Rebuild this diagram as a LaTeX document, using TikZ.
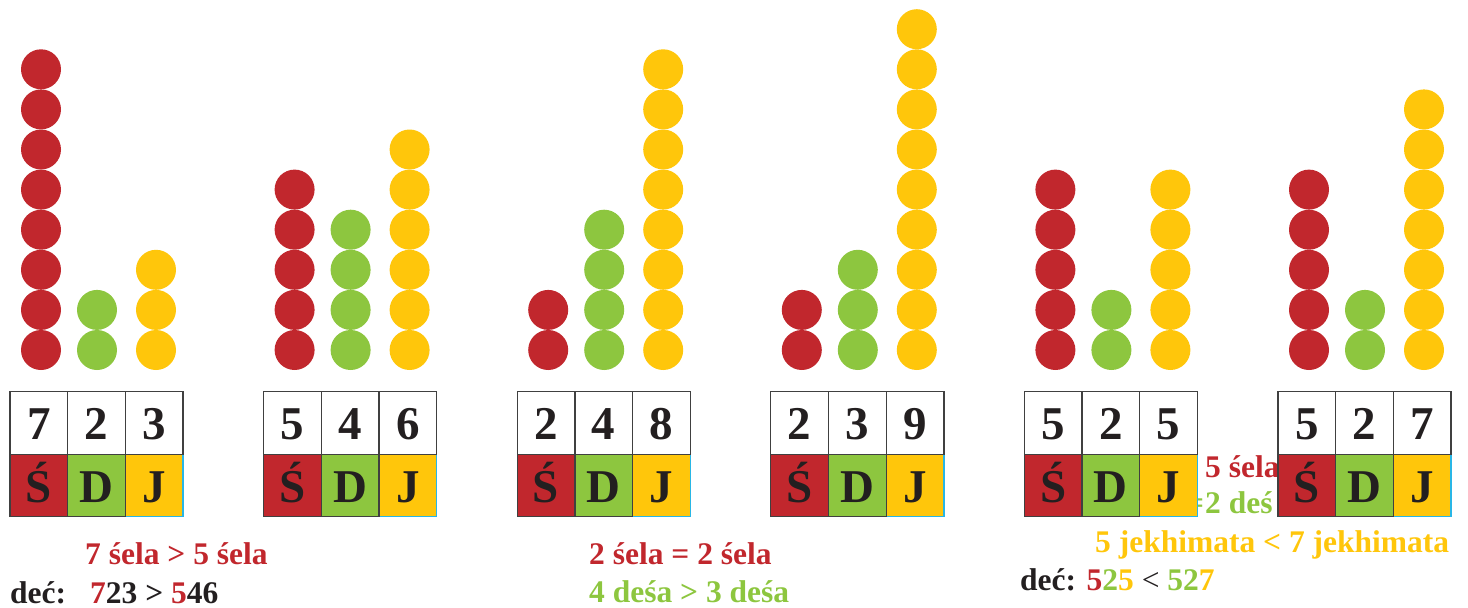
\documentclass[tikz,border=0pt]{standalone}
\usepackage{fontspec}
\setmainfont{Liberation Serif}
\definecolor{cred}{HTML}{C1272D}
\definecolor{cgreen}{HTML}{8DC63F}
\definecolor{cyellow}{HTML}{FFC60B}
\definecolor{ccyan}{HTML}{29B6E6}
\definecolor{cink}{HTML}{231F20}
\definecolor{cedge}{HTML}{404040}
\begin{document}
\begin{tikzpicture}[x=1pt,y=-1pt,
  cell/.style={draw=cedge, line width=1.3pt, minimum width=57.7pt, minimum height=62.5pt,
    inner sep=0pt, font=\fontsize{47}{47}\selectfont\bfseries, text=cink},
  topcell/.style={cell, fill=white, text height=32pt, text depth=0pt},
  botcell/.style={cell, text height=33pt, text depth=0pt},
  lbl/.style={anchor=base west, inner sep=0pt, font=\fontsize{31.5}{32}\selectfont\bfseries},
  bead/.style={fill=#1}]
\useasboundingbox (0,0) rectangle (1468,608);
% labels partly hidden behind boxes
\node[lbl, text=cred] (t5a) at (1205,477) {5 śela};
\node[lbl, text=cgreen] (t5b) at (1186,513) {=\hspace{1pt}2 deś};
\foreach \g/\r/\gg/\yy/\a/\b/\c in {0/8/2/3/7/2/3, 1/5/4/6/5/4/6, 2/2/4/8/2/4/8,
    3/2/3/9/2/3/9, 4/5/2/5/5/2/5, 5/5/2/7/5/2/7}{
  \pgfmathsetmacro\xo{10+253.6*\g}
  \foreach \k in {1,...,\r}{\fill[bead=cred] (\xo+31,350-40.1*\k+40.1) circle (20);}
  \foreach \k in {1,...,\gg}{\fill[bead=cgreen] (\xo+87,350-40.1*\k+40.1) circle (20);}
  \foreach \k in {1,...,\yy}{\fill[bead=cyellow] (\xo+146,350-40.1*\k+40.1) circle (20);}
  \node[botcell, fill=cyellow, draw=ccyan] (j\g) at (\xo+144.2,485.5) {J};
  \node[botcell, fill=cgreen] (d\g) at (\xo+86.5,485.5) {D};
  \node[botcell, fill=cred] (s\g) at (\xo+28.85,485.5) {Ś};
  \node[topcell] (na\g) at (\xo+28.85,423) {\a};
  \node[topcell] (nb\g) at (\xo+86.5,423) {\b};
  \node[topcell] (nc\g) at (\xo+144.2,423) {\c};
}
% texts
\node[lbl, text=cred] (t1a) at (85,564) {7 śela > 5 śela};
\node[lbl, text=cink] (t1b) at (10,603) {deć:};
\node[lbl, text=cink] (t1c) at (90,603) {\textcolor{cred}{7}23 > \textcolor{cred}{5}46};
\node[lbl, text=cred] (t2a) at (589,564) {2 śela = 2 śela};
\node[lbl, text=cgreen] (t2b) at (589,602) {4 deśa > 3 deśa};
\node[lbl, text=cyellow] (t3a) at (1095,552) {5 jekhimata < 7 jekhimata};
\node[lbl, text=cink] (t3b) at (1020,590) {deć: \textcolor{cred}{5}\textcolor{cgreen}{2}\textcolor{cyellow}{5} {\mdseries <} \textcolor{cgreen}{52}\textcolor{cyellow}{7}};
\end{tikzpicture}
\end{document}
